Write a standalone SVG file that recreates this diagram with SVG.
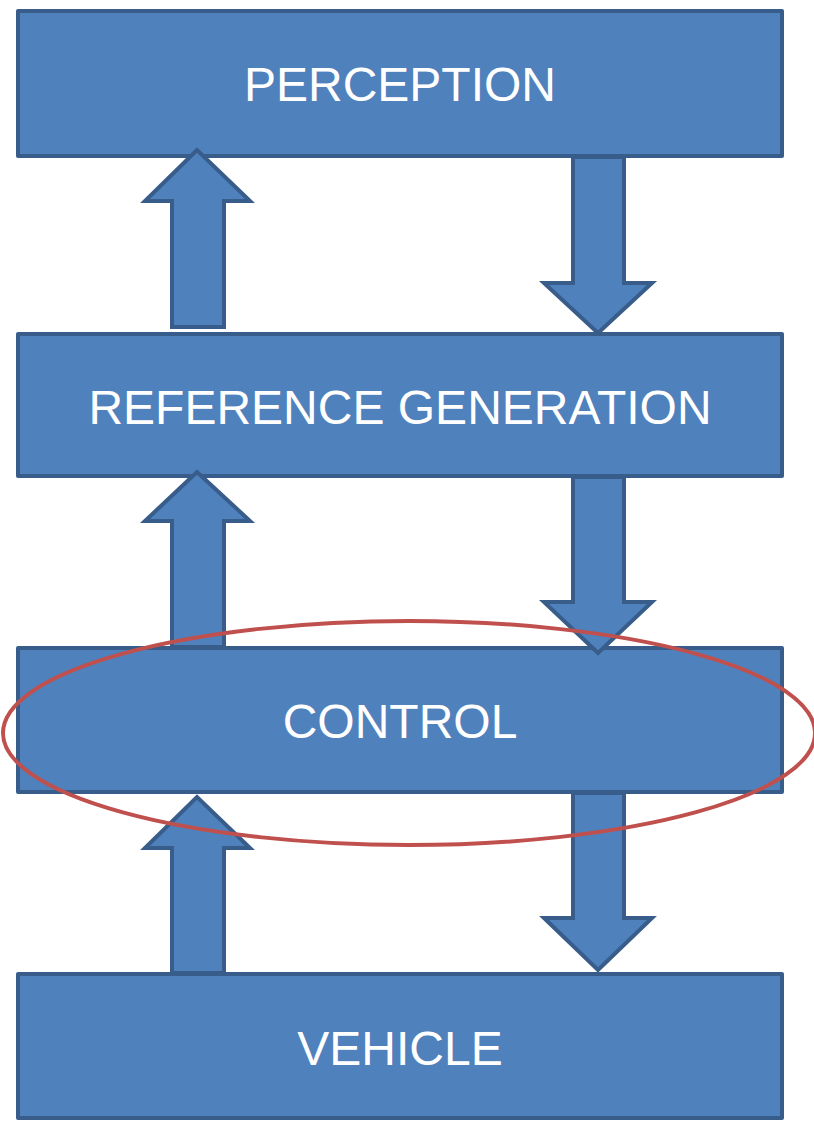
<svg xmlns="http://www.w3.org/2000/svg" width="814" height="1123" viewBox="0 0 814 1123">
<style>
.box{fill:#4f81bd;stroke:#385d8a;stroke-width:4;stroke-linejoin:round}
.arr{fill:#4f81bd;stroke:#385d8a;stroke-width:4;stroke-linejoin:miter}
.lbl{fill:#ffffff;font-family:"Liberation Sans",Arial,sans-serif;font-size:48px;text-anchor:middle}
</style>
<rect width="814" height="1123" fill="#ffffff"/>
<g id="perception"><rect class="box" x="18" y="11" width="764" height="145"/><text class="lbl" x="400" y="101">PERCEPTION</text></g>
<g id="reference-generation"><rect class="box" x="18" y="334" width="764" height="142"/><text class="lbl" x="400" y="424">REFERENCE GENERATION</text></g>
<g id="control"><rect class="box" x="18" y="648" width="764" height="144"/><text class="lbl" x="400" y="738">CONTROL</text></g>
<g id="vehicle"><rect class="box" x="18" y="974" width="764" height="144"/><text class="lbl" x="400" y="1065">VEHICLE</text></g>
<g id="connectors">
<polygon class="arr" points="172,327 172,201 145,201 197,150 250,201 224,201 224,327"/>
<polygon class="arr" points="573,157 624,157 624,283 652,283 598,333 544,283 573,283"/>
<polygon class="arr" points="172,647 172,521 145,521 197,472 250,521 224,521 224,647"/>
<polygon class="arr" points="573,477 624,477 624,602 652,602 598,653 544,602 573,602"/>
<polygon class="arr" points="172,973 172,848 145,848 197,797 250,848 224,848 224,973"/>
<polygon class="arr" points="573,793 624,793 624,918 652,918 598,970 544,918 573,918"/>
</g>
<ellipse cx="409" cy="733" rx="406" ry="112" fill="none" stroke="#c0504d" stroke-width="4"/>
</svg>
